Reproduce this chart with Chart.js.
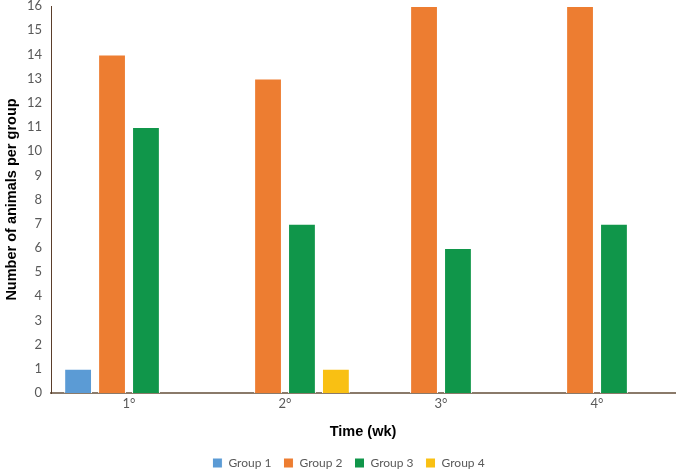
<!DOCTYPE html>
<html><head><meta charset="utf-8">
<script src="https://cdn.jsdelivr.net/npm/chart.js@4/dist/chart.umd.min.js"></script>
<style>html,body{margin:0;padding:0;background:#fff}#wrap{width:682px;height:471px}</style>
</head><body><div id="wrap"><canvas id="c"></canvas></div>
<script>
const categories = ['1°', '2°', '3°', '4°'];
const group1 = [1, 0, 0, 0];
const group2 = [14, 13, 16, 16];
const group3 = [11, 7, 6, 7];
const group4 = [0, 1, 0, 0];
const seriesNames = ['Group 1', 'Group 2', 'Group 3', 'Group 4'];
const colors = ['#5B9BD5', '#ED7D31', '#10964A', '#F9C013'];
const series = [group1, group2, group3, group4];

const legendShift = {
  id: 'legendShift',
  afterLayout(chart) {
    const lg = chart.legend;
    if (lg) { lg.left += 11; lg.right += 11; }
  }
};

new Chart(document.getElementById('c'), {
  type: 'bar',
  data: {
    labels: categories,
    datasets: series.map((d, i) => ({
      label: seriesNames[i],
      data: d,
      backgroundColor: colors[i],
      borderColor: '#ffffff',
      borderWidth: 1,
      borderSkipped: 'bottom',
      barPercentage: 0.82,
      categoryPercentage: 0.87
    }))
  },
  plugins: [legendShift],
  options: {
    responsive: true,
    maintainAspectRatio: false,
    animation: false,
    layout: { padding: { left: 0, right: 7, top: 6, bottom: -8 } },
    plugins: {
      legend: {
        position: 'bottom',
        labels: {
          boxWidth: 10, boxHeight: 10, padding: 12,
          color: '#595959',
          font: { family: 'Lato', size: 12 }
        }
      },
      tooltip: { enabled: false }
    },
    scales: {
      x: {
        grid: { display: false, drawTicks: false },
        border: { color: '#8a7a6a', width: 2 },
        ticks: { color: '#595959', font: { family: 'Lato', size: 13 }, padding: 3 },
        title: { display: true, text: 'Time (wk)', color: '#000', font: { family: 'Liberation Sans', size: 14.5, weight: 'bold' }, padding: { top: 4, bottom: 4 } },
        afterFit: s => { s.height = 52; s.paddingLeft = 0; s.paddingRight = 0; }
      },
      y: {
        min: 0, max: 16,
        grid: { display: false, drawTicks: false },
        border: { color: '#5a3e2b', width: 1 },
        ticks: { stepSize: 1, color: '#595959', font: { family: 'Lato', size: 13 }, padding: 9 },
        title: { display: true, text: 'Number of animals per group', color: '#000', font: { family: 'Liberation Sans', size: 14.5, weight: 'bold' }, padding: { top: 3, bottom: 4 } },
        afterFit: s => { s.width = 51; s.paddingTop = 0; s.paddingBottom = 0; }
      }
    }
  }
});
</script></body></html>
